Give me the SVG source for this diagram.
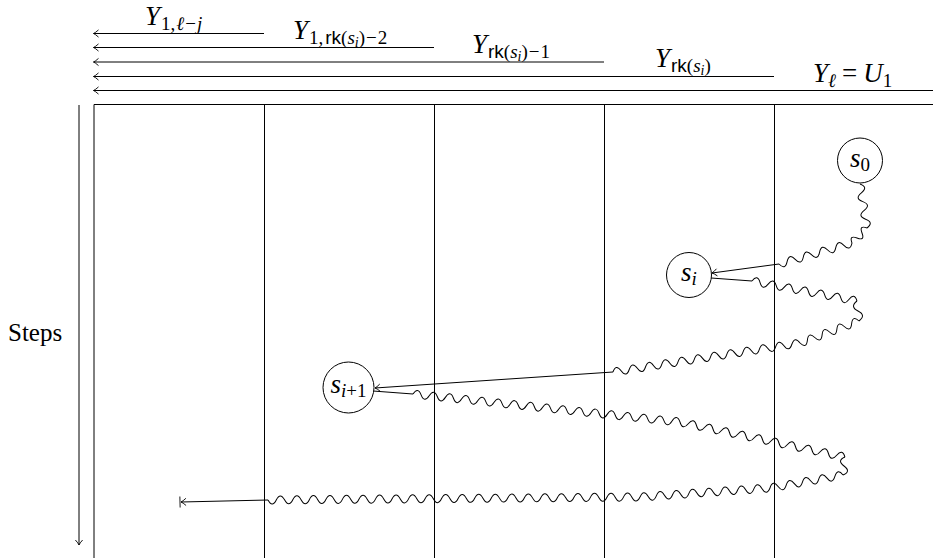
<svg xmlns="http://www.w3.org/2000/svg" width="933" height="558" viewBox="0 0 933 558">
<defs>
<marker id="to" markerUnits="userSpaceOnUse" markerWidth="10" markerHeight="12" viewBox="-8 -6 10 12" refX="0" refY="0" orient="auto">
<path d="M-5,-3.6 Q-1.8,-0.7 0,0 Q-1.8,0.7 -5,3.6" fill="none" stroke="#000" stroke-width="0.9"/>
</marker>
<marker id="barto" markerUnits="userSpaceOnUse" markerWidth="10" markerHeight="14" viewBox="-8 -7 10 14" refX="0" refY="0" orient="auto">
<path d="M-5,-3.6 Q-1.8,-0.7 0,0 Q-1.8,0.7 -5,3.6 M1,-5.5 V5.5" fill="none" stroke="#000" stroke-width="0.9"/>
</marker>
</defs>

<g id="grid" stroke="#000" stroke-width="1" fill="none">
<line x1="94" y1="104.5" x2="933" y2="104.5"/>
<line x1="94" y1="104.5" x2="94" y2="558"/>
<line x1="264.5" y1="104.5" x2="264.5" y2="558"/>
<line x1="434.5" y1="104.5" x2="434.5" y2="558"/>
<line x1="604.5" y1="104.5" x2="604.5" y2="558"/>
<line x1="774.5" y1="104.5" x2="774.5" y2="558"/>
</g>

<g id="levels" stroke="#000" stroke-width="1" fill="none">
<line x1="264" y1="33.5" x2="93.5" y2="33.5" marker-end="url(#to)"/>
<line x1="434" y1="47.5" x2="93.5" y2="47.5" marker-end="url(#to)"/>
<line x1="604" y1="62" x2="93.5" y2="62" marker-end="url(#to)"/>
<line x1="774" y1="76.5" x2="93.5" y2="76.5" marker-end="url(#to)"/>
<line x1="933" y1="90.5" x2="93.5" y2="90.5" marker-end="url(#to)"/>
</g>

<g id="labels" fill="#000">
<text x="145" y="25" font-family="Times New Roman"><tspan font-style="italic" font-size="27">Y</tspan><tspan font-size="19" dy="5" dx="1">1,</tspan><tspan font-size="19" font-style="italic" dx="1">&#8467;</tspan><tspan font-size="19" dx="1">&#8722;</tspan><tspan font-size="19" font-style="italic" dx="1">j</tspan></text>
<text x="293" y="39" font-family="Times New Roman"><tspan font-style="italic" font-size="27">Y</tspan><tspan font-size="19" dy="5" dx="1">1,</tspan><tspan font-size="19" font-family="Arial" dx="2">rk</tspan><tspan font-size="19">(</tspan><tspan font-size="19" font-style="italic">s</tspan><tspan font-size="14" font-style="italic" dy="3">i</tspan><tspan font-size="19" dy="-3">)</tspan><tspan font-size="19" dx="1">&#8722;</tspan><tspan font-size="19" dx="1">2</tspan></text>
<text x="472" y="53" font-family="Times New Roman"><tspan font-style="italic" font-size="27">Y</tspan><tspan font-size="19" dy="5" dx="1" font-family="Arial">rk</tspan><tspan font-size="19">(</tspan><tspan font-size="19" font-style="italic">s</tspan><tspan font-size="14" font-style="italic" dy="3">i</tspan><tspan font-size="19" dy="-3">)</tspan><tspan font-size="19" dx="1">&#8722;</tspan><tspan font-size="19" dx="1">1</tspan></text>
<text x="655" y="67" font-family="Times New Roman"><tspan font-style="italic" font-size="27">Y</tspan><tspan font-size="19" dy="5" dx="1" font-family="Arial">rk</tspan><tspan font-size="19">(</tspan><tspan font-size="19" font-style="italic">s</tspan><tspan font-size="14" font-style="italic" dy="3">i</tspan><tspan font-size="19" dy="-3">)</tspan></text>
<text x="813" y="82" font-family="Times New Roman"><tspan font-style="italic" font-size="27">Y</tspan><tspan font-size="19" font-style="italic" dy="5">&#8467;</tspan><tspan font-size="27" dy="-5" dx="6">=</tspan><tspan font-style="italic" font-size="27" dx="6">U</tspan><tspan font-size="19" dy="5">1</tspan></text>
</g>

<g id="steps">
<line x1="79" y1="105" x2="79" y2="545" stroke="#000" stroke-width="1" marker-end="url(#to)"/>
<text x="8" y="341" font-size="25" font-family="Times New Roman" fill="#000">Steps</text>
</g>

<g id="connectors" stroke="#000" stroke-width="1" fill="none" stroke-linejoin="round">
<path transform="translate(860,184) rotate(80.96)" d="M0,0q4.455,-8 8.91,0t8.91,0 8.91,0 8.91,0 8.91,0"/>
<path transform="translate(867,228) rotate(135)" d="M0,0q3.535,8 7.07,0t7.07,0 7.07,0"/>
<path transform="translate(852,243) rotate(163.95)" d="M0,0q4.22,-8 8.44,0t8.44,0 8.44,0 8.44,0 8.44,0 8.44,0 8.44,0 8.44,0 8.44,0"/>
<line x1="779" y1="264" x2="712" y2="273" marker-end="url(#to)"/>
<line x1="711" y1="278" x2="752" y2="281"/>
<path transform="translate(752,281) rotate(10.78)" d="M0,0q4.11,-8 8.22,0t8.22,0 8.22,0 8.22,0 8.22,0 8.22,0 8.22,0 8.22,0 8.22,0 8.22,0 8.22,0 8.22,0 8.22,0"/>
<path transform="translate(857,301) rotate(84.3)" d="M0,0q5.025,8 10.05,0t10.05,0"/>
<path transform="translate(859,321) rotate(159.55)" d="M0,0q3.935,8 7.87,0t7.87,0 7.87,0 7.87,0 7.87,0 7.87,0 7.87,0 7.87,0"/>
<path transform="translate(800,343) rotate(171.18)" d="M0,0q4.115,8 8.23,0t8.23,0 8.23,0 8.23,0 8.23,0 8.23,0 8.23,0 8.23,0 8.23,0 8.23,0 8.23,0 8.23,0 8.23,0 8.23,0 8.23,0 8.23,0 8.23,0 8.23,0 8.23,0 8.23,0 8.23,0 8.23,0 8.23,0"/>
<line x1="613" y1="372" x2="375" y2="388" marker-end="url(#to)"/>
<line x1="373" y1="391" x2="413" y2="394"/>
<path transform="translate(413,394) rotate(5.99)" d="M0,0q4.0675,-8 8.135,0t8.135,0 8.135,0 8.135,0 8.135,0 8.135,0 8.135,0 8.135,0 8.135,0 8.135,0 8.135,0 8.135,0 8.135,0 8.135,0 8.135,0 8.135,0 8.135,0 8.135,0 8.135,0 8.135,0 8.135,0 8.135,0 8.135,0 8.135,0 8.135,0 8.135,0 8.135,0 8.135,0 8.135,0 8.135,0 8.135,0 8.135,0 8.135,0"/>
<path transform="translate(680,422) rotate(11.98)" d="M0,0q4.215,8 8.43,0t8.43,0 8.43,0 8.43,0 8.43,0 8.43,0 8.43,0 8.43,0 8.43,0 8.43,0 8.43,0 8.43,0 8.43,0 8.43,0 8.43,0 8.43,0 8.43,0 8.43,0 8.43,0 8.43,0"/>
<path transform="translate(845,457) rotate(96.34)" d="M0,0q4.5275,8 9.055,0t9.055,0"/>
<path transform="translate(843,475) rotate(169.9)" d="M0,0q4.12,8 8.24,0t8.24,0 8.24,0 8.24,0 8.24,0 8.24,0 8.24,0 8.24,0 8.24,0"/>
<path transform="translate(770,488) rotate(176.04)" d="M0,0q4.07,-8 8.14,0t8.14,0 8.14,0 8.14,0 8.14,0 8.14,0 8.14,0 8.14,0 8.14,0 8.14,0 8.14,0 8.14,0 8.14,0 8.14,0 8.14,0 8.14,0"/>
<path transform="translate(640,497) rotate(179.54)" d="M0,0q4.1335,-8 8.267,0t8.267,0 8.267,0 8.267,0 8.267,0 8.267,0 8.267,0 8.267,0 8.267,0 8.267,0 8.267,0 8.267,0 8.267,0 8.267,0 8.267,0 8.267,0 8.267,0 8.267,0 8.267,0 8.267,0 8.267,0 8.267,0 8.267,0 8.267,0 8.267,0 8.267,0 8.267,0 8.267,0 8.267,0 8.267,0 8.267,0 8.267,0 8.267,0 8.267,0 8.267,0 8.267,0 8.267,0 8.267,0 8.267,0 8.267,0 8.267,0 8.267,0 8.267,0 8.267,0 8.267,0"/>
<line x1="268" y1="500" x2="181" y2="502" marker-end="url(#barto)"/>
</g>

<g id="s0">
<circle cx="860" cy="160.5" r="22.5" fill="#fff" stroke="#000" stroke-width="1"/>
<text x="860" y="167" text-anchor="middle" font-family="Times New Roman"><tspan font-style="italic" font-size="27">s</tspan><tspan font-size="19" dy="4">0</tspan></text>
</g>
<g id="si">
<circle cx="689" cy="275" r="22.5" fill="#fff" stroke="#000" stroke-width="1"/>
<text x="689" y="281" text-anchor="middle" font-family="Times New Roman"><tspan font-style="italic" font-size="27">s</tspan><tspan font-style="italic" font-size="19" dy="4">i</tspan></text>
</g>
<g id="si1">
<circle cx="348.5" cy="387.5" r="25.5" fill="#fff" stroke="#000" stroke-width="1"/>
<text x="348.5" y="393" text-anchor="middle" font-family="Times New Roman"><tspan font-style="italic" font-size="27">s</tspan><tspan font-style="italic" font-size="19" dy="4">i</tspan><tspan font-size="19">+1</tspan></text>
</g>
</svg>
